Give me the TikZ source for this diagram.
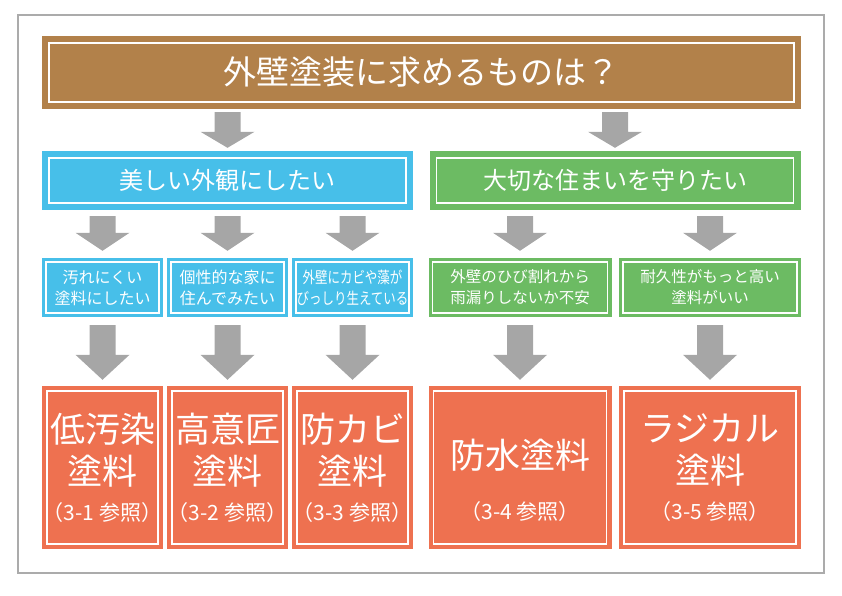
\documentclass[tikz,border=0pt]{standalone}
\usepackage{fontspec}
\usepackage{graphicx}
\setmainfont{Noto Sans CJK JP}
\usetikzlibrary{calc}
\definecolor{brownbox}{HTML}{B2814A}
\definecolor{bluebox}{HTML}{47BFE9}
\definecolor{greenbox}{HTML}{6CBB63}
\definecolor{orangebox}{HTML}{EE7150}
\definecolor{arrowgray}{HTML}{A6A6A6}
\definecolor{framegray}{HTML}{ABABAB}
\tikzset{
  box/.style={draw=none, fill=#1, text=white, inner sep=0pt, align=center},
  inset/.style={path picture={\draw[white, line width=1.1pt]
      ([shift={(#1,-#1)}]path picture bounding box.north west) rectangle
      ([shift={(-#1,#1)}]path picture bounding box.south east);}},
  titlebox/.style={box=brownbox, inset=7pt, minimum width=759pt, minimum height=73pt,
      font=\fontsize{33}{40}\selectfont},
  midbox/.style={box=#1, inset=7pt, minimum width=371pt, minimum height=59pt,
      font=\fontsize{24}{28}\selectfont},
  smallbox/.style={box=#1, inset=4pt, minimum height=59pt,
      font=\fontsize{16}{21}\selectfont},
  resultbox/.style={box=orangebox, inset=5pt, minimum height=163pt,
      font=\fontsize{35}{42}\selectfont},
}
\newcommand\refline[1]{{\fontsize{21}{24}\selectfont #1}}
% block arrow from node #1 down to node #2; gaps #3 (top) and #4 (bottom), head length #5
\newcommand\garrow[5]{%
  \fill[arrowgray] let \p1=(#2.north), \p2=(#1.south) in
    (\x1-13pt,\y2-#3) -- (\x1+13pt,\y2-#3) -- (\x1+13pt,\y1+#4+#5) --
    (\x1+27pt,\y1+#4+#5) -- (\x1,\y1+#4) -- (\x1-27pt,\y1+#4+#5) --
    (\x1-13pt,\y1+#4+#5) -- cycle;}
\begin{document}
\begin{tikzpicture}[x=1pt,y=-1pt]
\useasboundingbox (0,0) rectangle (842,595);
\draw[framegray, line width=2pt] (18,15) rectangle (824,573);

\node[titlebox] (title) at (421.5,72.5) {外壁塗装に求めるものは？};

\node[midbox=bluebox] (beauty) at (227.5,180.5) {美しい外観にしたい};
\node[midbox=greenbox] (house) at (615,180.5) {大切な住まいを守りたい};

\node[smallbox=bluebox, minimum width=121pt] (s1) at (102.5,287.5) {汚れにくい\\塗料にしたい};
\node[smallbox=bluebox, minimum width=121pt] (s2) at (227.5,287.5) {個性的な家に\\住んでみたい};
\node[smallbox=bluebox, minimum width=121pt] (s3) at (352.5,287.5)
  {\scalebox{0.78}[1]{外壁にカビや藻が}\\\scalebox{0.78}[1]{びっしり生えている}};
\node[smallbox=greenbox, minimum width=183pt, font=\fontsize{15.5}{21}\selectfont] (s4) at (520,287.5) {外壁のひび割れから\\雨漏りしないか不安};
\node[smallbox=greenbox, minimum width=182pt, font=\fontsize{15.5}{21}\selectfont] (s5) at (710,287.5) {耐久性がもっと高い\\塗料がいい};

\node[resultbox, minimum width=121pt] (r1) at (102.5,467.5) {低汚染\\塗料\\[-6pt]\refline{（3-1 参照）}};
\node[resultbox, minimum width=121pt] (r2) at (227.5,467.5) {高意匠\\塗料\\[-6pt]\refline{（3-2 参照）}};
\node[resultbox, minimum width=121pt] (r3) at (352.5,467.5) {防カビ\\塗料\\[-6pt]\refline{（3-3 参照）}};
\node[resultbox, minimum width=183pt] (r4) at (520,467.5) {\rule{0pt}{55pt}防水塗料\\[9pt]\refline{（3-4 参照）}};
\node[resultbox, minimum width=182pt] (r5) at (710,467.5) {ラジカル\\塗料\\[-6pt]\refline{（3-5 参照）}};

\garrow{title}{beauty}{3pt}{3pt}{16pt}
\garrow{title}{house}{3pt}{3pt}{16pt}
\garrow{beauty}{s1}{6pt}{7pt}{18pt}
\garrow{beauty}{s2}{6pt}{7pt}{18pt}
\garrow{beauty}{s3}{6pt}{7pt}{18pt}
\garrow{house}{s4}{6pt}{7pt}{18pt}
\garrow{house}{s5}{6pt}{7pt}{18pt}
\garrow{s1}{r1}{8pt}{6pt}{25pt}
\garrow{s2}{r2}{8pt}{6pt}{25pt}
\garrow{s3}{r3}{8pt}{6pt}{25pt}
\garrow{s4}{r4}{8pt}{6pt}{25pt}
\garrow{s5}{r5}{8pt}{6pt}{25pt}
\end{tikzpicture}
\end{document}
